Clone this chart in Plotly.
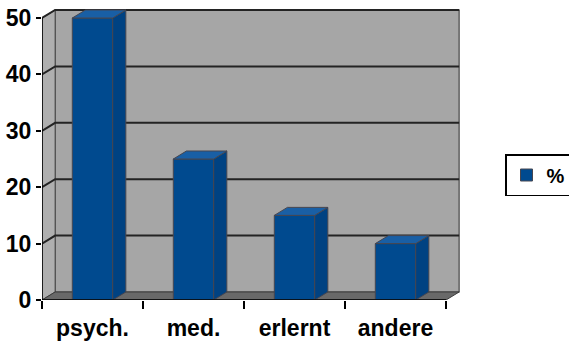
import plotly.graph_objects as go

# ---- data ----
categories = ["psych.", "med.", "erlernt", "andere"]
values = [50, 25, 15, 10]
y_ticks = [0, 10, 20, 30, 40, 50]
series_name = "%"

# ---- style ----
BAR_FRONT = "rgb(0,74,143)"
BAR_SIDE = "rgb(0,66,130)"
BAR_TOP = "rgb(25,95,165)"
BAR_EDGE = "rgb(70,70,80)"
WALL = "rgb(166,166,166)"
SIDE_WALL = "rgb(175,175,175)"
FLOOR = "rgb(105,105,105)"
GRID = "rgb(35,35,35)"
DX = 0.13      # depth offset in x units
DY = 1.42      # depth offset in y units
HALF = 0.2     # half bar width
FONT = dict(family="Liberation Sans", size=23, color="black", weight="bold")
LEG_FONT = dict(family="Liberation Sans", size=20, color="black", weight="bold")

pos = list(range(len(categories)))
x_lo = -0.5
x_hi = len(categories) - 0.5
y_top = max(y_ticks)

shapes = []
# back wall
shapes.append(dict(type="rect", xref="x", yref="y", x0=x_lo + DX, x1=x_hi + DX,
                   y0=DY, y1=y_top + DY, fillcolor=WALL,
                   line=dict(color="rgb(70,70,70)", width=1.2), layer="below"))
# left side wall
shapes.append(dict(type="path", xref="x", yref="y",
                   path=f"M {x_lo} 0 L {x_lo} {y_top} L {x_lo+DX} {y_top+DY} L {x_lo+DX} {DY} Z",
                   fillcolor=SIDE_WALL, line=dict(color="rgb(70,70,70)", width=1), layer="below"))
# floor
shapes.append(dict(type="path", xref="x", yref="y",
                   path=f"M {x_lo} 0 L {x_hi} 0 L {x_hi+DX} {DY} L {x_lo+DX} {DY} Z",
                   fillcolor=FLOOR, line=dict(color="rgb(60,60,60)", width=1), layer="below"))
# gridlines
for v in y_ticks[1:]:
    shapes.append(dict(type="path", xref="x", yref="y",
                       path=f"M {x_lo} {v} L {x_lo+DX} {v+DY} L {x_hi+DX} {v+DY}",
                       line=dict(color=GRID, width=2), layer="below"))
# front axis lines
shapes.append(dict(type="line", xref="x", yref="y", x0=x_lo, x1=x_lo, y0=0, y1=y_top,
                   line=dict(color="black", width=1.5)))
shapes.append(dict(type="line", xref="x", yref="y", x0=x_lo, x1=x_hi, y0=0, y1=0,
                   line=dict(color="black", width=1.5)))

fig = go.Figure()
fig.add_trace(go.Bar(x=pos, y=values, width=2 * HALF, name=series_name,
                     marker=dict(color=BAR_FRONT, line=dict(color=BAR_EDGE, width=1)),
                     showlegend=True, hoverinfo="skip"))

# side faces and top faces
sx, sy, tx, ty = [], [], [], []
for p, v in zip(pos, values):
    r = p + HALF
    l = p - HALF
    sx += [r, r, r + DX, r + DX, r, None]
    sy += [0, v, v + DY, DY, 0, None]
    tx += [l, r, r + DX, l + DX, l, None]
    ty += [v, v, v + DY, v + DY, v, None]
fig.add_trace(go.Scatter(x=sx, y=sy, mode="lines", fill="toself", fillcolor=BAR_SIDE,
                         line=dict(color=BAR_EDGE, width=1), showlegend=False, hoverinfo="skip"))
fig.add_trace(go.Scatter(x=tx, y=ty, mode="lines", fill="toself", fillcolor=BAR_TOP,
                         line=dict(color=BAR_EDGE, width=1), showlegend=False, hoverinfo="skip"))

px_per_x = 101.0
px_per_y = 5.64
ml, mr, mt, mb = 42, 108, 8, 43
plot_w = 569 - ml - mr
plot_h = 343 - mt - mb

fig.update_layout(
    width=569, height=343,
    margin=dict(l=ml, r=mr, t=mt, b=mb, autoexpand=False),
    paper_bgcolor="white", plot_bgcolor="white",
    shapes=shapes,
    showlegend=True,
    legend=dict(x=(505 - ml) / plot_w, y=(300 - 154) / plot_h, xanchor="left", yanchor="top",
                bordercolor="black", borderwidth=1.5, bgcolor="white",
                font=LEG_FONT, itemwidth=30),
    xaxis=dict(range=[x_lo, x_lo + plot_w / px_per_x], tickmode="array", tickvals=pos,
               ticktext=categories, ticks="", showgrid=False, zeroline=False, showline=False,
               tickfont=FONT, ticklabelstandoff=12, automargin=False,
               minor=dict(ticks="outside", tick0=x_lo, dtick=1, ticklen=8, tickwidth=1.5,
                          tickcolor="black", showgrid=False)),
    yaxis=dict(range=[0, plot_h / px_per_y], tickmode="array", tickvals=y_ticks,
               ticks="outside", ticklen=5, tickwidth=1.5, tickcolor="black", automargin=False,
               showgrid=False, zeroline=False, showline=False, tickfont=FONT),
)

fig.write_html("out.html")
